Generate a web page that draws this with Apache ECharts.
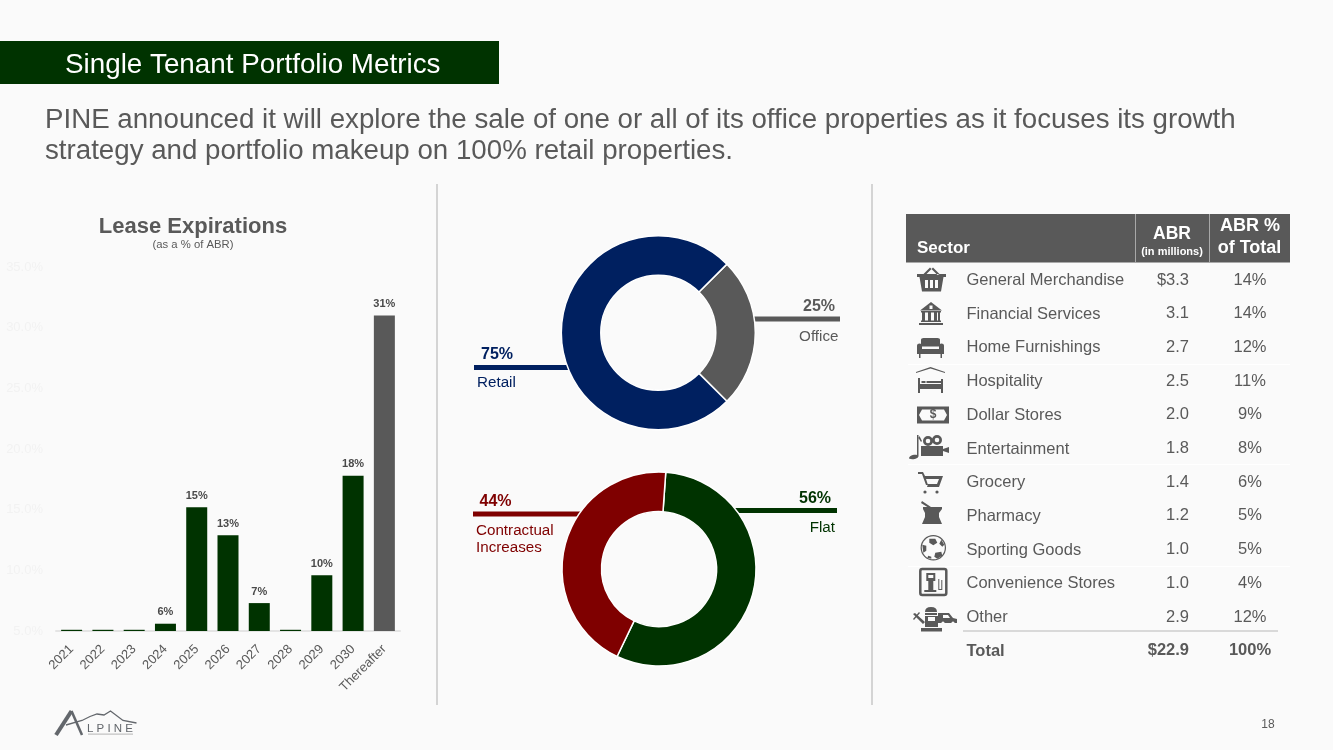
<!DOCTYPE html>
<html><head><meta charset="utf-8">
<style>html,body{margin:0;padding:0;background:#fafafa}#c{width:1333px;height:750px}</style>
<script src="https://cdn.jsdelivr.net/npm/echarts@6/dist/echarts.min.js"></script>
</head><body><div id="c"></div>
<script>
const leaseYears = ['2021','2022','2023','2024','2025','2026','2027','2028','2029','2030','Thereafter'];
const leaseValues = [5.1,5.1,5.1,5.6,15.2,12.9,7.3,5.1,9.6,17.8,31];
const leaseLabels = ['','','','6%','15%','13%','7%','','10%','18%','31%'];
const propertyNames = ['Office','Retail'];
const propertyValues = [25,75];
const rentNames = ['Flat','Contractual Increases'];
const rentValues = [56,44];
const sectors = ['General Merchandise','Financial Services','Home Furnishings','Hospitality','Dollar Stores','Entertainment','Grocery','Pharmacy','Sporting Goods','Convenience Stores','Other'];
const abr = ['$3.3','3.1','2.7','2.5','2.0','1.8','1.4','1.2','1.0','1.0','2.9'];
const abrPct = ['14%','14%','12%','11%','9%','8%','6%','5%','5%','4%','12%'];
const FONT='"Liberation Sans",Arial,sans-serif', G='#003300', GR='#595959', NAVY='#002060', RED='#7f0000', BG='#fafafa';
const rowY=i=>280+i*33.7;
const g=[];
const rect=(x,y,w,h,fill)=>g.push({type:'rect',silent:true,shape:{x,y,width:w,height:h},style:{fill}});
const txt=(x,y,text,size,fill,o={})=>g.push({type:'text',silent:true,x,y,style:{text,font:`${o.bold?'bold ':''}${size}px ${FONT}`,fill,align:o.align||'left',verticalAlign:'middle'}});
// header
rect(0,41,499,43,G);
txt(65,65.5,'Single Tenant Portfolio Metrics',27.8,'#fff');
txt(45,120.5,'PINE announced it will explore the sale of one or all of its office properties as it focuses its growth',27.7,GR);
txt(45,151.5,'strategy and portfolio makeup on 100% retail properties.',27.7,GR);
rect(436,184,2,521,'#d4d4d4');rect(871,184,2,521,'#d4d4d4');
txt(193,227,'Lease Expirations',22,GR,{bold:true,align:'center'});
txt(193,245,'(as a % of ABR)',11.3,GR,{align:'center'});
// donut leaders
rect(474,365,97,5,NAVY);rect(753,316.5,87,5,GR);rect(473,511.5,110,5,RED);rect(735,508,102,5,G);
txt(497,355,'75%',16,NAVY,{bold:true,align:'center'});
txt(477,382.5,'Retail',15.2,NAVY);
txt(819,307,'25%',16,GR,{bold:true,align:'center'});
txt(838.5,336.5,'Office',15.2,GR,{align:'right'});
txt(495.5,501.5,'44%',16,RED,{bold:true,align:'center'});
txt(476,530.5,'Contractual',15.2,RED);
txt(476,547.5,'Increases',15.2,RED);
txt(815,498.5,'56%',16,G,{bold:true,align:'center'});
txt(835,527.5,'Flat',15.2,G,{align:'right'});
// table
rect(906,214,384,48.5,GR);
rect(1135,214,1,48.5,'#a8a8a8');rect(1209,214,1,48.5,'#a8a8a8');
txt(917,248,'Sector',17,'#fff',{bold:true});
txt(1172,234.5,'ABR',17.5,'#fff',{bold:true,align:'center'});
txt(1172,251.5,'(in millions)',11,'#fff',{bold:true,align:'center'});
txt(1250,226,'ABR %',18,'#fff',{bold:true,align:'center'});
txt(1249.5,248,'of Total',18,'#fff',{bold:true,align:'center'});
[364,464,566].forEach(y=>rect(908,y,382,1,'#ffffff'));
sectors.forEach((s,i)=>{
  const y=rowY(i);
  txt(966.5,y+.5,s,16.5,GR);
  txt(1189,y,abr[i],16.5,GR,{align:'right'});
  txt(1250,y,abrPct[i],16.5,GR,{align:'center'});
});
rect(963,630,315,2,'#d9d9d9');
txt(966.5,651,'Total',16.5,GR,{bold:true});
txt(1189,650.5,'$22.9',16.5,GR,{bold:true,align:'right'});
txt(1250,650.5,'100%',16.5,GR,{bold:true,align:'center'});
txt(1268,724.5,'18',12,GR,{align:'center'});
// icons: solid shape then background-coloured cut-outs
let shapeId=0;
const pathEl=(x,y,d,style)=>{
  const name='iconShape'+(shapeId++);
  echarts.graphic.registerShape(name,echarts.graphic.extendPath(d,{}));
  g.push({type:name,silent:true,x,y,shape:{},style});
};
const icon=(x,y,dark,light,stroke)=>{
  pathEl(x,y,dark,stroke?{fill:'none',stroke:GR,lineWidth:stroke}:{fill:GR});
  if(light)pathEl(x,y,light,{fill:BG});
};
const circle=(cx,cy,r)=>`M${cx-r},${cy}A${r},${r},0,1,1,${cx+r},${cy}A${r},${r},0,1,1,${cx-r},${cy}Z`;
// basket
icon(931.5,280,'M-14.5,-6L14.5,-6L14.5,-3L12,-3L9.5,11.5L-9.5,11.5L-12,-3L-14.5,-3Z M-8,-6L-1.5,-12.5L0,-11L-6,-5Z M8,-6L1.5,-12.5L0,-11L6,-5Z','M-6.5,0L-3.5,0L-3.5,8L-6.5,8Z M-1.5,0L1.5,0L1.5,8L-1.5,8Z M3.5,0L6.5,0L6.5,8L3.5,8Z');
// bank
icon(931,313.5,'M0,-11.5L11,-3L-11,-3Z M-10,-2.5L10,-2.5L10,-1L-10,-1Z M-9,-1L-6,-1L-6,7L-9,7Z M-3,-1L0,-1L0,7L-3,7Z M3,-1L6,-1L6,7L3,7Z M7,-1L9,-1L9,7L7,7Z M-10,7L10,7L10,8.5L-10,8.5Z M-12,9.5L12,9.5L12,11.5L-12,11.5Z','M-1.5,-8L1.5,-8L1.5,-4.5L-1.5,-4.5Z');
// sofa
icon(930.5,347.5,'M-9.5,-8Q-9.5,-9.5,-7,-9.5L7,-9.5Q9.5,-9.5,9.5,-8L9.5,-1L-9.5,-1Z M-13.5,-2Q-13.5,-4,-11,-4Q-8.5,-4,-8.5,-1.5L-8.5,1.5L8.5,1.5L8.5,-1.5Q8.5,-4,11,-4Q13.5,-4,13.5,-2L13.5,6.5L-13.5,6.5Z M-11.5,6.5L-10,6.5L-10,10.5L-11.5,10.5Z M10,6.5L11.5,6.5L11.5,10.5L10,10.5Z');
// hospitality
icon(930.5,381,'M-14.5,-9L0,-14L14.5,-9L14.5,-8L0,-12.5L-14.5,-8Z M-12.5,-3L-10.5,-3L-10.5,3L12.5,3L12.5,-2L12.5,12L10.5,12L10.5,8L-10.5,8L-10.5,12L-12.5,12Z M-9,0L-5,0L-5,2L-9,2Z M-4,0L11,0L11,2L-4,2Z M10.5,-2L12.5,-2L12.5,4L10.5,4Z');
// dollar
icon(933,415,'M-16,-8.5L16,-8.5L16,8.5L-16,8.5Z','M-11,-5.5L11,-5.5L14,0L11,5.5L-11,5.5L-14,0Z');
txt(933,415,'$',12,GR,{bold:true,align:'center'});
// entertainment
icon(929,447,'M-12,-12L-10.5,-12L-10.5,9C-10.5,12,-17,13,-20,11.5C-20,8,-14,7,-12,8Z M-9.5,-11L-7,-6L-8,-5L-10.5,-9Z M-8,-1L14,-1L14,2L20,0L20,6L14,4L14,9L-8,9Z '+circle(-1,-6,5)+circle(8,-7,5),circle(-1,-6,2.3)+circle(8,-7,2.3));
// grocery
icon(930,482,'M-12,-10L-7,-10L-5,-6L13,-6L9,5L-3,5L-2,2L7,2L9,-3L-4,-3L-2,3L-4,3L-8,-8L-12,-8Z '+circle(-5,10,1.6)+circle(7,10,1.6));
// pharmacy
icon(932,513,'M-10,-12L-1,-6L-3,-5L-11,-10Z M-9,-6L10,-6L10,-4L7,0L7,4L10,11L-10,11L-7,4L-7,0L-9,-4Z');
// ball
icon(933.3,547.8,circle(0,0,12.7),circle(0,0,11.5));
icon(933.3,547.8,'M-4,-9L2,-9L4,-5L0,-2.5L-4,-5Z M2,5L8,4L9,8L4,11L1,9Z M-11,-3L-7,-2L-7,3L-10,5Z M8,-8L11,-3L9,-1L6,-4Z M-5,8L-2,9L-2,11L-6,10Z');
// convenience
icon(933.3,582,'M-11,-13L11,-13Q13,-13,13,-11L13,11Q13,13,11,13L-11,13Q-13,13,-13,11L-13,-11Q-13,-13,-11,-13Z',null,2.5);
icon(933.3,582,'M-7,-9L2,-9L2,-1L0,-1L0,8L3,8L3,10L-9,10L-9,8L-5,8L-5,-1L-7,-1Z M5,-3L6,-3L6,7L8,7L8,-2L9,-2L9,8L5,8Z','M-5,-7L0,-7L0,-4L-5,-4Z');
// other
icon(932,620,'M-7,-8Q-7,-13,-1,-13Q5,-13,5,-8Z M-7,-7L5,-7L5,-5L-7,-5Z M-7,-4L6,-4L6,7L-7,7Z M-11,8L10,8L10,11.5L-11,11.5Z M-19,-6L-17,-7L-7,2L-9,4Z M-19,-1L-13,-8L-12,-7L-18,0Z M6,-7L17,-7L21,-2L25,-1L25,3L6,3Z','M-4,-3L3,-3L3,1L-4,1Z M11,-5L16,-5L18,-2L11,-2Z '+circle(11,3,1.6)+circle(21,3,1.6));
// logo
g.push({type:'polyline',silent:true,shape:{points:[[56,735],[71.5,711]]},style:{fill:'none',stroke:'#63676c',lineWidth:4}});
g.push({type:'polyline',silent:true,shape:{points:[[71.5,711],[82,735]]},style:{fill:'none',stroke:'#63676c',lineWidth:2.5}});
g.push({type:'polyline',silent:true,shape:{points:[[66,725],[82,720.5],[90,716.5],[97,714],[104,715],[110.5,711],[123,720.5],[136.5,723]]},style:{fill:'none',stroke:'#63676c',lineWidth:1.3}});
txt(87,729,'L P I N E',11.5,'#63676c');
rect(88,733.5,45,1.2,'#c2c2c2');

const donutItem=(name,value,color)=>({name,value,itemStyle:{color}});
const donut=(center,startAngle,data)=>({type:'pie',center,radius:[57.5,97],startAngle,clockwise:true,silent:true,animation:false,
  label:{show:false},labelLine:{show:false},itemStyle:{borderColor:'#fff',borderWidth:1.5},data});
const chart=echarts.init(document.getElementById('c'),null,{renderer:'canvas'});
chart.setOption({
  animation:false,backgroundColor:BG,
  textStyle:{fontFamily:FONT},
  grid:{left:56,top:267,width:344,height:364,containLabel:false},
  xAxis:{type:'category',data:leaseYears,axisTick:{show:false},
    axisLine:{show:true,lineStyle:{color:'#e4e4e4',width:2}},
    axisLabel:{rotate:45,interval:0,fontSize:13,color:GR,margin:16,fontFamily:FONT}},
  yAxis:{type:'value',min:5,max:35,interval:5,splitLine:{show:false},axisLine:{show:false},axisTick:{show:false},
    axisLabel:{formatter:v=>v.toFixed(1)+'%',fontSize:13,color:'#f2f2f2',margin:13,fontFamily:FONT}},
  series:[
    {type:'bar',silent:true,barWidth:21,
     data:leaseValues.map((v,i)=>({value:v,itemStyle:{color:i===leaseValues.length-1?GR:G},
       label:{show:!!leaseLabels[i],formatter:leaseLabels[i]}})),
     label:{position:'top',distance:6,fontSize:11,fontWeight:'bold',color:'#4a4a4a',fontFamily:FONT}},
    donut([658.3,332.7],45,[donutItem(propertyNames[0],propertyValues[0],GR),donutItem(propertyNames[1],propertyValues[1],NAVY)]),
    donut([659,569],86,[donutItem(rentNames[0],rentValues[0],G),donutItem(rentNames[1],rentValues[1],RED)])
  ],
  graphic:{elements:g}
});
</script></body></html>
